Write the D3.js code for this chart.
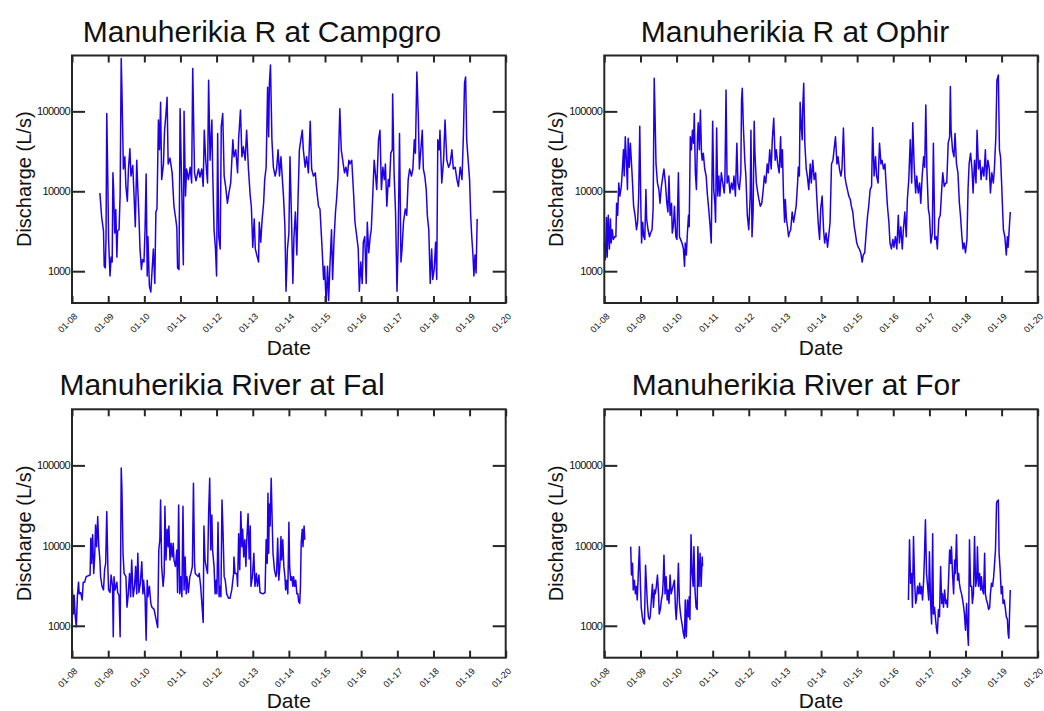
<!DOCTYPE html>
<html lang="en">
<head>
    <meta charset="UTF-8">
    <title>Manuherikia discharge</title>
    <script src="https://cdn.jsdelivr.net/npm/d3@7"></script>
    <style>
        body { margin: 0; background: #fff; }
        text { font-family: "Liberation Sans", Arial, sans-serif; fill: #111; }
    </style>
</head>
<body>
    <script>

        // station names (titles as shown)
        var titles = ['Manuherikia R at Campgro', 'Manuherikia R at Ophir',
                      'Manuherikia River at Fal', 'Manuherikia River at For'];

        // tick labels
        var yTicks = [1000, 10000, 100000];
        var xTickLabels = ['01-08', '01-09', '01-10', '01-11', '01-12', '01-13', '01-14',
                           '01-15', '01-16', '01-17', '01-18', '01-19', '01-20'];

        // discharge in L/s, [decimal year, value]
        var campgro = [
            [2008.77, 9500], [2008.82, 4700], [2008.87, 3200], [2008.89, 1150], [2008.92, 1100],
            [2008.94, 2700], [2008.96, 94000], [2008.99, 12700], [2009.01, 2500], [2009.05, 870],
            [2009.08, 1500], [2009.11, 1300], [2009.13, 17000], [2009.15, 10500], [2009.18, 3000],
            [2009.21, 5900], [2009.24, 1500], [2009.26, 3200], [2009.30, 3300], [2009.33, 9000],
            [2009.36, 460000], [2009.38, 185000], [2009.42, 19000], [2009.46, 27000], [2009.49, 11500],
            [2009.53, 7500], [2009.56, 19000], [2009.60, 34000], [2009.63, 15500], [2009.68, 21000],
            [2009.72, 7900], [2009.75, 3600], [2009.79, 24500], [2009.82, 10500], [2009.85, 5000],
            [2009.88, 1900], [2009.92, 1050], [2009.95, 1400], [2009.99, 1300], [2010.02, 3300],
            [2010.05, 16500], [2010.08, 870], [2010.10, 2700], [2010.14, 650], [2010.18, 550],
            [2010.21, 950], [2010.25, 1900], [2010.29, 700], [2010.32, 5500], [2010.35, 6000],
            [2010.39, 78000], [2010.42, 33000], [2010.45, 130000], [2010.48, 14000], [2010.53, 22000],
            [2010.56, 58000], [2010.60, 94000], [2010.63, 150000], [2010.66, 22000], [2010.71, 26000],
            [2010.77, 17000], [2010.82, 6500], [2010.87, 4500], [2010.90, 3500], [2010.92, 1100],
            [2010.96, 1050], [2010.99, 108000], [2011.04, 8700], [2011.08, 1200], [2011.10, 100000],
            [2011.14, 8700], [2011.17, 19000], [2011.22, 14000], [2011.27, 20000], [2011.31, 12700],
            [2011.34, 345000], [2011.39, 17000], [2011.43, 13500], [2011.50, 19000], [2011.54, 15000],
            [2011.59, 19000], [2011.63, 11500], [2011.66, 58000], [2011.70, 24500], [2011.75, 12700],
            [2011.78, 245000], [2011.82, 24500], [2011.87, 78000], [2011.89, 20000], [2011.93, 3300],
            [2011.97, 1900], [2012.00, 870], [2012.03, 53000], [2012.06, 2700], [2012.10, 1900],
            [2012.13, 65000], [2012.17, 94000], [2012.21, 15500], [2012.25, 11500], [2012.30, 7100],
            [2012.34, 9500], [2012.39, 12700], [2012.45, 44000], [2012.48, 27000], [2012.53, 33000],
            [2012.58, 17000], [2012.61, 46000], [2012.66, 104000], [2012.70, 27000], [2012.74, 36000],
            [2012.79, 24500], [2012.83, 58000], [2012.88, 19000], [2012.93, 8700], [2012.96, 6500],
            [2013.00, 2000], [2013.04, 4500], [2013.07, 1900], [2013.11, 1600], [2013.16, 1300],
            [2013.18, 4100], [2013.22, 2300], [2013.26, 4500], [2013.30, 7100], [2013.33, 14000],
            [2013.37, 20000], [2013.41, 200000], [2013.44, 48000], [2013.46, 225000], [2013.49, 380000],
            [2013.53, 44000], [2013.57, 20000], [2013.62, 15500], [2013.66, 19000], [2013.70, 33000],
            [2013.74, 15500], [2013.78, 27000], [2013.82, 14000], [2013.85, 8700], [2013.89, 3600],
            [2013.92, 560], [2013.96, 1900], [2014.00, 3000], [2014.03, 27000], [2014.07, 5000],
            [2014.11, 700], [2014.14, 2700], [2014.18, 5500], [2014.22, 1600], [2014.25, 7100],
            [2014.29, 33000], [2014.33, 44000], [2014.37, 58000], [2014.40, 33000], [2014.45, 20000],
            [2014.49, 27000], [2014.54, 17000], [2014.59, 75000], [2014.63, 19000], [2014.68, 15500],
            [2014.73, 17000], [2014.77, 10500], [2014.82, 6500], [2014.86, 6000], [2014.92, 1900],
            [2014.96, 790], [2014.99, 1150], [2015.03, 400], [2015.07, 1150], [2015.10, 430],
            [2015.14, 1300], [2015.18, 3300], [2015.21, 790], [2015.25, 2500], [2015.29, 5500],
            [2015.32, 7900], [2015.36, 15500], [2015.41, 108000], [2015.45, 33000], [2015.49, 24500],
            [2015.54, 17000], [2015.58, 20000], [2015.62, 15500], [2015.66, 24500], [2015.69, 22000],
            [2015.74, 24500], [2015.79, 9500], [2015.83, 4100], [2015.88, 2700], [2015.92, 1900],
            [2015.95, 560], [2015.99, 1300], [2016.03, 700], [2016.06, 2300], [2016.10, 2700],
            [2016.14, 700], [2016.17, 4100], [2016.21, 1700], [2016.25, 2700], [2016.28, 3300],
            [2016.32, 8700], [2016.36, 24500], [2016.40, 15500], [2016.43, 10500], [2016.48, 44000],
            [2016.52, 58000], [2016.56, 10500], [2016.60, 20000], [2016.64, 14000], [2016.67, 22000],
            [2016.71, 6500], [2016.75, 14000], [2016.78, 11500], [2016.82, 30000], [2016.86, 33000],
            [2016.87, 165000], [2016.91, 17000], [2016.95, 5500], [2016.99, 560], [2017.02, 2000],
            [2017.06, 53000], [2017.10, 1300], [2017.13, 1900], [2017.17, 4100], [2017.22, 6000],
            [2017.26, 5000], [2017.30, 14000], [2017.34, 19000], [2017.39, 15500], [2017.43, 19000],
            [2017.47, 44000], [2017.50, 30000], [2017.54, 310000], [2017.58, 86000], [2017.61, 19000],
            [2017.65, 33000], [2017.69, 58000], [2017.72, 19000], [2017.76, 15500], [2017.80, 10500],
            [2017.83, 5000], [2017.87, 3300], [2017.91, 700], [2017.95, 1900], [2017.98, 790],
            [2018.02, 1050], [2018.06, 2300], [2018.09, 790], [2018.12, 44000], [2018.16, 33000],
            [2018.18, 58000], [2018.23, 12700], [2018.28, 24500], [2018.32, 78000], [2018.37, 24500],
            [2018.42, 20000], [2018.46, 22000], [2018.51, 33000], [2018.55, 19000], [2018.60, 20000],
            [2018.65, 14000], [2018.69, 11500], [2018.74, 20000], [2018.79, 14000], [2018.83, 53000],
            [2018.86, 225000], [2018.89, 270000], [2018.92, 44000], [2018.96, 24500], [2019.00, 14000],
            [2019.03, 5000], [2019.06, 2700], [2019.09, 1700], [2019.12, 870], [2019.15, 1600],
            [2019.18, 950], [2019.21, 4500]
        ];

        var ophir = [
            [2008.00, 2250], [2008.03, 1400], [2008.06, 4700], [2008.08, 1500], [2008.11, 5000],
            [2008.14, 1900], [2008.17, 4500], [2008.19, 2250], [2008.22, 3300], [2008.25, 2500],
            [2008.29, 2700], [2008.32, 2700], [2008.34, 7100], [2008.37, 5000], [2008.40, 12700],
            [2008.43, 8700], [2008.47, 11500], [2008.50, 19000], [2008.53, 33000], [2008.55, 15500],
            [2008.58, 48000], [2008.61, 24500], [2008.64, 10500], [2008.66, 46000], [2008.69, 20000],
            [2008.72, 40000], [2008.76, 19000], [2008.78, 12700], [2008.81, 6500], [2008.85, 5000],
            [2008.89, 3300], [2008.92, 4100], [2008.95, 8700], [2008.98, 65000], [2009.01, 6500],
            [2009.03, 2250], [2009.06, 4100], [2009.09, 2700], [2009.12, 2500], [2009.15, 10500],
            [2009.17, 4500], [2009.21, 3300], [2009.25, 2700], [2009.28, 3000], [2009.32, 3300],
            [2009.35, 6000], [2009.38, 260000], [2009.40, 104000], [2009.43, 22000], [2009.47, 12700],
            [2009.51, 10500], [2009.54, 7100], [2009.58, 11500], [2009.62, 15500], [2009.65, 19000],
            [2009.69, 12700], [2009.73, 7100], [2009.76, 5500], [2009.79, 15500], [2009.82, 5000],
            [2009.86, 7100], [2009.88, 3000], [2009.91, 3600], [2009.94, 6500], [2009.98, 2700],
            [2010.01, 2500], [2010.05, 17000], [2010.08, 2700], [2010.11, 2500], [2010.15, 2250],
            [2010.19, 1900], [2010.22, 1150], [2010.24, 2250], [2010.27, 1600], [2010.30, 3000],
            [2010.33, 5000], [2010.35, 3600], [2010.38, 48000], [2010.41, 33000], [2010.44, 58000],
            [2010.47, 40000], [2010.49, 94000], [2010.52, 17000], [2010.55, 10500], [2010.58, 48000],
            [2010.60, 72000], [2010.63, 33000], [2010.66, 104000], [2010.69, 30000], [2010.71, 24500],
            [2010.74, 30000], [2010.78, 19000], [2010.82, 15500], [2010.85, 9500], [2010.89, 6000],
            [2010.93, 3600], [2010.96, 2250], [2011.00, 75000], [2011.03, 10500], [2011.06, 7100],
            [2011.08, 4100], [2011.11, 62000], [2011.14, 8700], [2011.17, 15500], [2011.20, 8700],
            [2011.24, 17000], [2011.28, 12700], [2011.32, 9500], [2011.34, 14000], [2011.37, 185000],
            [2011.40, 12700], [2011.44, 15500], [2011.48, 9500], [2011.52, 12700], [2011.56, 10500],
            [2011.59, 15500], [2011.63, 8700], [2011.67, 40000], [2011.70, 12700], [2011.74, 10500],
            [2011.78, 17000], [2011.80, 138000], [2011.82, 195000], [2011.85, 65000], [2011.89, 24500],
            [2011.92, 15500], [2011.96, 5000], [2012.00, 3300], [2012.04, 8700], [2012.06, 58000],
            [2012.09, 2700], [2012.12, 5500], [2012.15, 75000], [2012.17, 30000], [2012.21, 12700],
            [2012.25, 9500], [2012.28, 7900], [2012.32, 6500], [2012.36, 7100], [2012.40, 10500],
            [2012.43, 15500], [2012.47, 12700], [2012.51, 22000], [2012.54, 17000], [2012.58, 33000],
            [2012.62, 19000], [2012.65, 44000], [2012.69, 82000], [2012.73, 24500], [2012.76, 33000],
            [2012.80, 22000], [2012.84, 17000], [2012.88, 48000], [2012.90, 20000], [2012.93, 33000],
            [2012.96, 8700], [2012.99, 4100], [2013.01, 7900], [2013.04, 4500], [2013.07, 3600],
            [2013.10, 2700], [2013.12, 3000], [2013.16, 3300], [2013.20, 5500], [2013.24, 4100],
            [2013.27, 5000], [2013.31, 6500], [2013.35, 12700], [2013.37, 20000], [2013.40, 15500],
            [2013.42, 130000], [2013.45, 65000], [2013.48, 44000], [2013.49, 104000], [2013.52, 225000],
            [2013.55, 40000], [2013.59, 19000], [2013.62, 15500], [2013.66, 10500], [2013.70, 22000],
            [2013.73, 12700], [2013.77, 24500], [2013.81, 14000], [2013.85, 17000], [2013.88, 8700],
            [2013.92, 4100], [2013.96, 2500], [2013.99, 6000], [2014.03, 8700], [2014.07, 3300],
            [2014.10, 2250], [2014.14, 3000], [2014.18, 2000], [2014.21, 2700], [2014.25, 4100],
            [2014.29, 22000], [2014.33, 24500], [2014.36, 33000], [2014.40, 48000], [2014.44, 22000],
            [2014.47, 27000], [2014.51, 19000], [2014.55, 15500], [2014.58, 19000], [2014.62, 62000],
            [2014.66, 15500], [2014.69, 12700], [2014.73, 10500], [2014.77, 8700], [2014.81, 7900],
            [2014.84, 6500], [2014.88, 5500], [2014.92, 3600], [2014.95, 3000], [2014.99, 2250],
            [2015.03, 2000], [2015.06, 1900], [2015.10, 1700], [2015.14, 1300], [2015.17, 1600],
            [2015.21, 1700], [2015.25, 3000], [2015.29, 5000], [2015.32, 6500], [2015.36, 10500],
            [2015.40, 11500], [2015.43, 63000], [2015.47, 15500], [2015.51, 27000], [2015.54, 15500],
            [2015.58, 12700], [2015.62, 40000], [2015.66, 22000], [2015.69, 24500], [2015.73, 19000],
            [2015.77, 22000], [2015.80, 12700], [2015.84, 6500], [2015.88, 4100], [2015.91, 2250],
            [2015.95, 1900], [2015.99, 2500], [2016.02, 2000], [2016.06, 2700], [2016.10, 1900],
            [2016.14, 5000], [2016.17, 2250], [2016.21, 3600], [2016.25, 1900], [2016.28, 3300],
            [2016.32, 5500], [2016.36, 2700], [2016.39, 7900], [2016.43, 14000], [2016.47, 44000],
            [2016.51, 12700], [2016.54, 72000], [2016.58, 20000], [2016.62, 9500], [2016.65, 15500],
            [2016.69, 9500], [2016.73, 12700], [2016.76, 7100], [2016.80, 15500], [2016.84, 27000],
            [2016.87, 20000], [2016.90, 120000], [2016.93, 19000], [2016.97, 6000], [2017.00, 5000],
            [2017.04, 2250], [2017.08, 3000], [2017.11, 40000], [2017.15, 2500], [2017.19, 2700],
            [2017.22, 1900], [2017.26, 4500], [2017.30, 5000], [2017.34, 10500], [2017.37, 17000],
            [2017.41, 11500], [2017.45, 12700], [2017.48, 12700], [2017.52, 40000], [2017.56, 48000],
            [2017.58, 205000], [2017.60, 58000], [2017.64, 33000], [2017.68, 27000], [2017.71, 53000],
            [2017.75, 22000], [2017.79, 17000], [2017.83, 7100], [2017.86, 5000], [2017.90, 2700],
            [2017.93, 1900], [2017.96, 2250], [2018.00, 1700], [2018.04, 2500], [2018.07, 10500],
            [2018.10, 22000], [2018.14, 30000], [2018.18, 19000], [2018.21, 9500], [2018.25, 24500],
            [2018.29, 12700], [2018.32, 58000], [2018.36, 19000], [2018.40, 24500], [2018.43, 14000],
            [2018.47, 20000], [2018.51, 15500], [2018.55, 33000], [2018.58, 14000], [2018.62, 24500],
            [2018.66, 19000], [2018.69, 9500], [2018.73, 17000], [2018.77, 12700], [2018.80, 19000],
            [2018.84, 48000], [2018.87, 245000], [2018.91, 285000], [2018.94, 33000], [2018.97, 27000],
            [2019.00, 12700], [2019.03, 5500], [2019.05, 3300], [2019.09, 2700], [2019.13, 1600],
            [2019.16, 2700], [2019.18, 2000], [2019.21, 3300], [2019.24, 5500]
        ];

        var falls = [
            [2008.00, 3700], [2008.02, 2300], [2008.04, 1400], [2008.06, 2400], [2008.09, 1300],
            [2008.12, 970], [2008.15, 2400], [2008.18, 3500], [2008.20, 2500], [2008.24, 2600],
            [2008.28, 2100], [2008.31, 3500], [2008.35, 3500], [2008.39, 4100], [2008.45, 4200],
            [2008.50, 4300], [2008.52, 12300], [2008.54, 6000], [2008.57, 13600], [2008.60, 4500],
            [2008.63, 8000], [2008.65, 18000], [2008.68, 9700], [2008.71, 23000], [2008.74, 9700],
            [2008.77, 6600], [2008.79, 4100], [2008.83, 3100], [2008.87, 2800], [2008.90, 5000],
            [2008.93, 6000], [2008.96, 26500], [2008.99, 5500], [2009.01, 2800], [2009.05, 2600],
            [2009.08, 4300], [2009.12, 3100], [2009.14, 730], [2009.16, 4100], [2009.19, 2800],
            [2009.24, 3500], [2009.26, 2600], [2009.30, 2400], [2009.33, 730], [2009.36, 93000],
            [2009.38, 50000], [2009.41, 8000], [2009.44, 4500], [2009.49, 4100], [2009.52, 1700],
            [2009.55, 2300], [2009.59, 4500], [2009.62, 2300], [2009.65, 6600], [2009.69, 2300],
            [2009.73, 3100], [2009.76, 5500], [2009.79, 2500], [2009.82, 8000], [2009.85, 2600],
            [2009.89, 3400], [2009.93, 6300], [2009.96, 2500], [2009.98, 3700], [2010.02, 2300],
            [2010.05, 660], [2010.08, 3700], [2010.10, 2300], [2010.14, 3100], [2010.18, 1900],
            [2010.21, 1700], [2010.27, 1600], [2010.31, 1300], [2010.34, 1100], [2010.37, 950],
            [2010.40, 8800], [2010.43, 11800], [2010.45, 37000], [2010.48, 5500], [2010.52, 3100],
            [2010.55, 4500], [2010.57, 31000], [2010.60, 6600], [2010.63, 16000], [2010.66, 9700],
            [2010.68, 17500], [2010.71, 6600], [2010.74, 10700], [2010.77, 7200], [2010.80, 10700],
            [2010.82, 6600], [2010.86, 5500], [2010.90, 8800], [2010.92, 2600], [2010.95, 32000],
            [2010.98, 2500], [2011.01, 4100], [2011.04, 2300], [2011.07, 31000], [2011.10, 2800],
            [2011.13, 7200], [2011.16, 2500], [2011.18, 4100], [2011.22, 2600], [2011.26, 4100],
            [2011.29, 4500], [2011.33, 5500], [2011.36, 60000], [2011.39, 6000], [2011.41, 4500],
            [2011.45, 4300], [2011.49, 4100], [2011.52, 4500], [2011.56, 3100], [2011.60, 1700],
            [2011.63, 1100], [2011.65, 17500], [2011.68, 6600], [2011.71, 5500], [2011.75, 4500],
            [2011.78, 25000], [2011.81, 69000], [2011.84, 8800], [2011.87, 24000], [2011.89, 8800],
            [2011.93, 5500], [2011.96, 2500], [2011.99, 3700], [2012.01, 2500], [2012.04, 19500],
            [2012.07, 2300], [2012.10, 3100], [2012.12, 2300], [2012.15, 37000], [2012.18, 14000],
            [2012.21, 4100], [2012.24, 3700], [2012.28, 2500], [2012.33, 2200], [2012.37, 2200],
            [2012.42, 2800], [2012.47, 4500], [2012.48, 7200], [2012.51, 4500], [2012.56, 4500],
            [2012.58, 3100], [2012.61, 14000], [2012.64, 5000], [2012.67, 26500], [2012.70, 9700],
            [2012.72, 16000], [2012.75, 7200], [2012.78, 11800], [2012.81, 5500], [2012.83, 10700],
            [2012.87, 25000], [2012.90, 6800], [2012.93, 17500], [2012.95, 3100], [2012.99, 4100],
            [2013.03, 8000], [2013.06, 3100], [2013.10, 4500], [2013.13, 3100], [2013.17, 4300],
            [2013.20, 2600], [2013.28, 2500], [2013.34, 2600], [2013.37, 11800], [2013.40, 6000],
            [2013.42, 45000], [2013.44, 8000], [2013.46, 33000], [2013.48, 17500], [2013.51, 69000],
            [2013.54, 17500], [2013.56, 8000], [2013.60, 5000], [2013.64, 4100], [2013.66, 4500],
            [2013.69, 12300], [2013.72, 3700], [2013.75, 5500], [2013.78, 13000], [2013.80, 6600],
            [2013.83, 11800], [2013.86, 5500], [2013.89, 4100], [2013.91, 2800], [2013.94, 3700],
            [2013.97, 2500], [2014.00, 19500], [2014.02, 5500], [2014.05, 3700], [2014.08, 4100],
            [2014.11, 3100], [2014.13, 4100], [2014.16, 3100], [2014.19, 3700], [2014.22, 2500],
            [2014.25, 2500], [2014.27, 2000], [2014.30, 1900], [2014.32, 3100], [2014.34, 10700],
            [2014.37, 16000], [2014.39, 9700], [2014.42, 17500], [2014.44, 11800]
        ];

        // null marks the gap in the record
        var forks = [
            [2008.73, 9700], [2008.75, 4300], [2008.78, 6000], [2008.80, 2800], [2008.83, 3700],
            [2008.86, 2500], [2008.89, 3100], [2008.91, 2100], [2008.94, 4500], [2008.97, 9700],
            [2009.00, 3100], [2009.02, 1700], [2009.05, 1300], [2009.08, 1100], [2009.11, 1050],
            [2009.14, 5700], [2009.16, 3700], [2009.19, 1900], [2009.22, 1300], [2009.25, 1200],
            [2009.27, 1300], [2009.30, 2100], [2009.33, 3300], [2009.36, 1700], [2009.39, 2800],
            [2009.41, 2500], [2009.44, 3100], [2009.47, 4300], [2009.50, 2500], [2009.52, 1400],
            [2009.55, 1600], [2009.58, 2100], [2009.61, 2500], [2009.63, 3700], [2009.65, 7600],
            [2009.68, 2500], [2009.71, 4100], [2009.74, 2100], [2009.76, 2800], [2009.79, 1900],
            [2009.82, 4300], [2009.85, 2500], [2009.94, 3700], [2009.97, 1600], [2009.99, 1200],
            [2010.02, 2100], [2010.05, 6000], [2010.08, 1900], [2010.11, 1400], [2010.13, 1200],
            [2010.16, 1000], [2010.19, 800], [2010.22, 700], [2010.24, 2100], [2010.27, 730],
            [2010.30, 2100], [2010.33, 1300], [2010.35, 2300], [2010.37, 1200], [2010.40, 13600],
            [2010.43, 4500], [2010.46, 3100], [2010.48, 9700], [2010.51, 2800], [2010.54, 1700],
            [2010.57, 1600], [2010.59, 9700], [2010.62, 3100], [2010.65, 8000], [2010.68, 3100],
            [2010.71, 7200], [2010.72, 5500],
            [2013.50, null],
            [2016.42, 2100], [2016.45, 11800], [2016.48, 3400], [2016.51, 4500], [2016.53, 1700],
            [2016.56, 13000], [2016.59, 3700], [2016.62, 1900], [2016.64, 2100], [2016.67, 3100],
            [2016.70, 2500], [2016.73, 3400], [2016.75, 2500], [2016.78, 3100], [2016.81, 2100],
            [2016.84, 3700], [2016.86, 6600], [2016.89, 21000], [2016.92, 4500], [2016.95, 3100],
            [2016.98, 2100], [2017.00, 8400], [2017.03, 2100], [2017.06, 1050], [2017.09, 14000],
            [2017.11, 1400], [2017.14, 1700], [2017.17, 1200], [2017.20, 880], [2017.22, 800],
            [2017.25, 1600], [2017.28, 1300], [2017.31, 5500], [2017.34, 1900], [2017.36, 2500],
            [2017.39, 1700], [2017.42, 2800], [2017.45, 1900], [2017.47, 2100], [2017.50, 1700],
            [2017.53, 3700], [2017.56, 8800], [2017.59, 6000], [2017.61, 9700], [2017.64, 4500],
            [2017.67, 2500], [2017.70, 6600], [2017.72, 4500], [2017.75, 13600], [2017.78, 3700],
            [2017.81, 4500], [2017.83, 3400], [2017.86, 2800], [2017.89, 2500], [2017.92, 2100],
            [2017.95, 1700], [2017.97, 1400], [2018.00, 880], [2018.03, 1900], [2018.06, 800],
            [2018.08, 570], [2018.11, 11800], [2018.14, 3100], [2018.17, 3100], [2018.19, 1900],
            [2018.22, 2500], [2018.25, 13000], [2018.28, 3100], [2018.31, 3700], [2018.33, 9700],
            [2018.36, 3100], [2018.39, 4500], [2018.42, 2800], [2018.44, 4100], [2018.47, 2800],
            [2018.50, 2500], [2018.53, 8000], [2018.55, 2500], [2018.58, 2100], [2018.61, 1900],
            [2018.64, 1600], [2018.67, 1700], [2018.69, 2500], [2018.72, 3400], [2018.75, 3100],
            [2018.78, 4100], [2018.80, 5500], [2018.83, 8800], [2018.86, 34000], [2018.88, 36000],
            [2018.91, 37000], [2018.93, 8000], [2018.96, 5000], [2018.99, 2500], [2019.02, 3100],
            [2019.04, 1900], [2019.07, 2100], [2019.10, 1700], [2019.13, 1300], [2019.16, 1200],
            [2019.18, 800], [2019.20, 700], [2019.22, 1400], [2019.24, 2800]
        ];

        var series = [campgro, ophir, falls, forks];

        //width and height
        var w = 1044;
        var h = 711;

        // plot boxes: left, top, right, bottom
        var boxes = [
            [72, 55.5, 505.7, 303],
            [604.3, 55.5, 1037.7, 303],
            [72, 409.3, 505.7, 657.7],
            [604.3, 409.3, 1037.7, 657.7]
        ];
        // title centres
        var titleX = [262, 795, 222, 796];
        // gap from plot bottom to "Date" baseline
        var dateGap = [52, 52, 50, 50];

        var lineColor = '#2000ec';
        var frameColor = '#262626';

        // decimal year -> Date (UTC)
        function decYear(y) {
            var yr = Math.floor(y);
            var s = Date.UTC(yr, 0, 1), e = Date.UTC(yr + 1, 0, 1);
            return new Date(s + (y - yr) * (e - s));
        }

        var svg = d3.select('body')
                    .append('svg')
                    .attr('width', w)
                    .attr('height', h);

        boxes.forEach(function(b, k) {
            var x = d3.scaleUtc()
                .domain([new Date(Date.UTC(2008, 0, 1)), new Date(Date.UTC(2020, 0, 1))])
                .range([b[0], b[2]]);
            var y = d3.scaleLog()
                .domain([400, 500000])
                .range([b[3], b[1]]);

            var xTicks = xTickLabels.map(function(d, i) {
                return new Date(Date.UTC(2008 + i, 0, 1));
            });

            var g = svg.append('g');

            // data line
            var line = d3.line()
                .defined(function(d) { return d[1] != null; })
                .x(function(d) { return x(decYear(d[0])); })
                .y(function(d) { return y(d[1]); });

            g.append('path')
                .datum(series[k])
                .attr('d', line)
                .attr('fill', 'none')
                .attr('stroke', lineColor)
                .attr('stroke-width', 1.5)
                .attr('stroke-linejoin', 'round');

            // ticks pointing inside on all four sides
            var bottom = g.append('g')
                .attr('transform', 'translate(0,' + b[3] + ')')
                .call(d3.axisBottom(x).tickValues(xTicks).tickSize(-7).tickFormat(''));
            var top = g.append('g')
                .attr('transform', 'translate(0,' + b[1] + ')')
                .call(d3.axisTop(x).tickValues(xTicks).tickSize(-7).tickFormat(''));
            var left = g.append('g')
                .attr('transform', 'translate(' + b[0] + ',0)')
                .call(d3.axisLeft(y).tickValues(yTicks).tickSize(-13).tickFormat(''));
            var right = g.append('g')
                .attr('transform', 'translate(' + b[2] + ',0)')
                .call(d3.axisRight(y).tickValues(yTicks).tickSize(-13).tickFormat(''));

            [bottom, top, left, right].forEach(function(a) {
                a.select('.domain').remove();
                a.selectAll('line').attr('stroke', frameColor).attr('stroke-width', 2);
            });

            // frame
            g.append('rect')
                .attr('x', b[0])
                .attr('y', b[1])
                .attr('width', b[2] - b[0])
                .attr('height', b[3] - b[1])
                .attr('fill', 'none')
                .attr('stroke', frameColor)
                .attr('stroke-width', 2);

            // y tick labels
            g.selectAll('.ylab')
                .data(yTicks)
                .enter()
                .append('text')
                .attr('x', b[0] - 2)
                .attr('y', function(d) { return y(d) + 4; })
                .attr('text-anchor', 'end')
                .attr('font-size', '11px')
                .attr('letter-spacing', '-0.6px')
                .text(function(d) { return d; });

            // x tick labels, rotated
            g.selectAll('.xlab')
                .data(xTicks)
                .enter()
                .append('text')
                .attr('transform', function(d) {
                    return 'translate(' + (x(d) + 6) + ',' + (b[3] + 14) + ') rotate(-45)';
                })
                .attr('text-anchor', 'end')
                .attr('font-size', '9px')
                .text(function(d, i) { return xTickLabels[i]; });

            // axis titles
            g.append('text')
                .attr('x', (b[0] + b[2]) / 2)
                .attr('y', b[3] + dateGap[k])
                .attr('text-anchor', 'middle')
                .attr('font-size', '21px')
                .text('Date');

            g.append('text')
                .attr('transform', 'translate(' + (b[0] - 41) + ',' + ((b[1] + b[3]) / 2) + ') rotate(-90)')
                .attr('text-anchor', 'middle')
                .attr('font-size', '20px')
                .text('Discharge (L/s)');

            // panel title
            g.append('text')
                .attr('x', titleX[k])
                .attr('y', b[1] - 14)
                .attr('text-anchor', 'middle')
                .attr('font-size', '30px')
                .text(titles[k]);
        });

    </script>
</body>
</html>
